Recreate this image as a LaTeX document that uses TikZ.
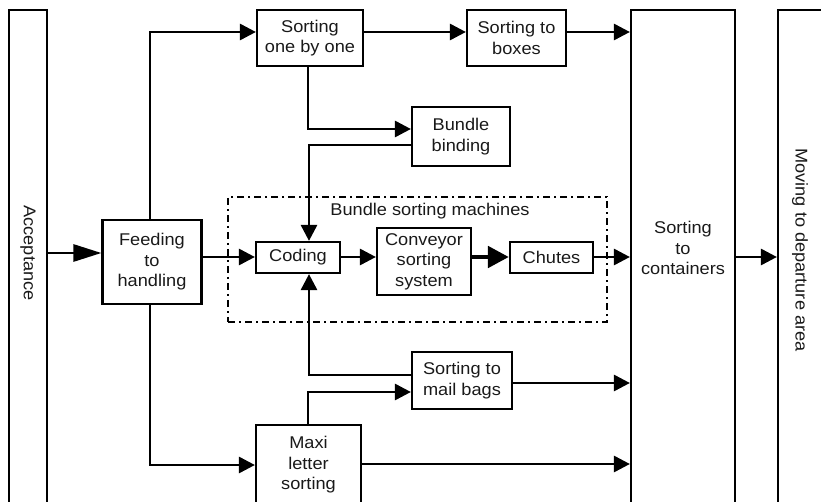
\documentclass[tikz,border=0pt]{standalone}
\usepackage{fontspec}
\setmainfont{Liberation Sans}[FakeStretch=1.07]
\usetikzlibrary{arrows.meta,calc}
\begin{document}
\begin{tikzpicture}[x=1pt,y=-1pt,
  every node/.style={font=\fontsize{17}{20.5}\selectfont, text=black!90, inner sep=0pt},
  stage/.style={draw, line width=2.2pt, align=center},
  flow/.style={line width=2.9pt, -{Triangle[length=16pt,width=16pt]}},
  flowlong/.style={line width=2.9pt, -{Triangle[length=28pt,width=17pt]}},
  flowthick/.style={line width=4.8pt, -{Triangle[length=21pt,width=21pt]}},
  machinegroup/.style={draw, line width=2.1pt, dash pattern=on 7pt off 4pt on 2pt off 4pt}
]
\useasboundingbox (0,0) rectangle (821,502);
\clip (0,0) rectangle (821,502);

% tall columns at both sides
\node[stage, minimum width=38pt, minimum height=530pt] (acc) at (28,275) {};
\node[rotate=-90] (acctext) at (28,253) {Acceptance};
\node[stage, minimum width=104pt, minimum height=530pt] (cont) at (683,275) {};
\node[align=center] (conttext) at (683,248) {Sorting\\to\\containers};
\node[stage, minimum width=80pt, minimum height=530pt] (move) at (818,275) {};
\node[rotate=-90] (movetext) at (800,250) {Moving to departure area};

% processing steps
\node[stage, minimum width=99pt, minimum height=84pt] (feed) at (152,262) {Feeding\\to\\handling};
\node[stage, minimum width=106pt, minimum height=56pt] (one) at (310,38) {Sorting\\one by one};
\node[stage, minimum width=99pt, minimum height=56pt] (boxes) at (516.5,38) {Sorting to\\boxes};
\node[stage, minimum width=98pt, minimum height=59pt] (bind) at (461,136.5) {Bundle\\binding};
\node[stage, minimum width=100pt, minimum height=57pt] (bags) at (462,380.5) {Sorting to\\mail bags};
\node[stage, minimum width=105pt, minimum height=115pt] (maxi) at (308.5,482.5) {};
\node[align=center] (maxitext) at (308.5,465) {Maxi\\letter\\sorting};

% bundle sorting machines
\node[machinegroup, minimum width=379pt, minimum height=125pt] (group) at (417.5,259.5) {};
\node (grouptext) at (430,211) {Bundle sorting machines};
\node[stage, minimum width=84pt, minimum height=31pt] (coding) at (298,257.5) {Coding};
\node[stage, minimum width=94pt, minimum height=67pt] (conv) at (424,261.5) {Conveyor\\sorting\\system};
\node[stage, minimum width=83pt, minimum height=31pt] (chutes) at (551.5,257.5) {Chutes};

% connectors
\coordinate (topy) at (0,32);
\coordinate (midy) at (0,257);
\coordinate (colx) at (309,0);

\draw[flowlong] (acc.east |- 0,253) -- (feed.west |- 0,253);
\draw[flow] (feed.north -| 150,0) -- (150,32) -- (one.west |- topy);
\draw[flow] (one.east |- topy) -- (boxes.west |- topy);
\draw[flow] (boxes.east |- topy) -- (cont.west |- topy);
\draw[flow] (one.south -| 308,0) -- (308,129) -- (bind.west |- 0,129);
\draw[flow] (bind.west |- 0,145) -- (colx |- 0,145) -- (coding.north -| colx);
\draw[flow] (feed.east |- midy) -- (coding.west |- midy);
\draw[flow] (coding.east |- midy) -- (conv.west |- midy);
\draw[flowthick] (conv.east |- midy) -- (chutes.west |- midy);
\draw[flow] (chutes.east |- midy) -- (cont.west |- midy);
\draw[flow] (cont.east |- midy) -- (move.west |- midy);
\draw[flow] (bags.west |- 0,375) -- (colx |- 0,375) -- (coding.south -| colx);
\draw[flow] (maxi.north -| 308,0) -- (308,392) -- (bags.west |- 0,392);
\draw[flow] (bags.east |- 0,383) -- (cont.west |- 0,383);
\draw[flow] (feed.south -| 150,0) -- (150,465) -- (maxi.west |- 0,465);
\draw[flow] (maxi.east |- 0,464) -- (cont.west |- 0,464);
\end{tikzpicture}
\end{document}
